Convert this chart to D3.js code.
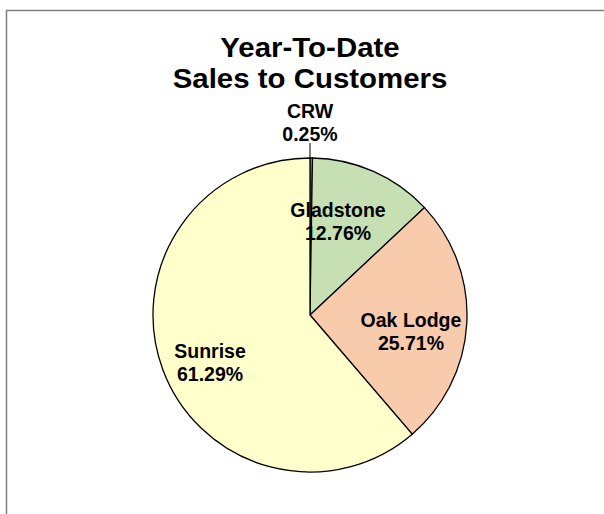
<!DOCTYPE html>
<html><head><meta charset="utf-8">
<script src="https://cdn.jsdelivr.net/npm/d3@7"></script>
<style>body{margin:0;background:#fff}svg{display:block}</style>
</head><body>
<script>
const categories = ["CRW", "Gladstone", "Oak Lodge", "Sunrise"];
const values = [0.25, 12.76, 25.71, 61.29];
const labels = ["0.25%", "12.76%", "25.71%", "61.29%"];
const colors = ["#c6d9e8", "#c6e0b4", "#f8cbad", "#ffffcc"];
const titleLines = ["Year-To-Date", "Sales to Customers"];

const W = 604, H = 514;
const svg = d3.select("body").append("svg").attr("width", W).attr("height", H);
svg.append("rect").attr("x", 6.5).attr("y", 10.5).attr("width", 620).attr("height", 540)
  .attr("fill", "#fff").attr("stroke", "#7f7f7f").attr("stroke-width", 1.5);

const font = "Liberation Sans, Arial, sans-serif";
svg.append("g").attr("transform", "translate(310,0) scale(1.09,1)")
  .selectAll("text").data(titleLines).join("text")
  .attr("x", 0).attr("y", (d, i) => 57.5 + i * 30.5)
  .attr("text-anchor", "middle").attr("font-family", font).attr("font-weight", "bold")
  .attr("font-size", 27).attr("fill", "#000").text(d => d);

const cx = 310, cy = 315, r = 157;
const data = categories.map((c, i) => ({c, v: values[i], l: labels[i], col: colors[i]}));
const pie = d3.pie().sort(null).value(d => d.v);
const arcs = pie(data);
const arc = d3.arc().innerRadius(0).outerRadius(r);
const g = svg.append("g").attr("transform", `translate(${cx},${cy})`);
g.selectAll("path").data(arcs).join("path").attr("d", arc)
  .attr("fill", d => d.data.col).attr("stroke", "#000").attr("stroke-width", 1.3);

// label positions (relative to centre)
const labelPos = {
  "CRW": [0, -197],
  "Gladstone": [28, -98],
  "Oak Lodge": [101, 12],
  "Sunrise": [-100, 43]
};
// leader line for CRW
g.append("line").attr("x1", 0).attr("x2", 0).attr("y1", -172).attr("y2", -r)
  .attr("stroke", "#000").attr("stroke-width", 1);

const lg = g.append("g");
arcs.forEach(a => {
  const [x, y] = labelPos[a.data.c];
  const t = lg.append("text").attr("text-anchor", "middle").attr("font-family", font)
    .attr("font-weight", "bold").attr("font-size", 19.5).attr("fill", "#000");
  t.append("tspan").attr("x", x).attr("y", y).text(a.data.c);
  t.append("tspan").attr("x", x).attr("y", y + 22.5).text(a.data.l);
});
</script>
</body></html>
